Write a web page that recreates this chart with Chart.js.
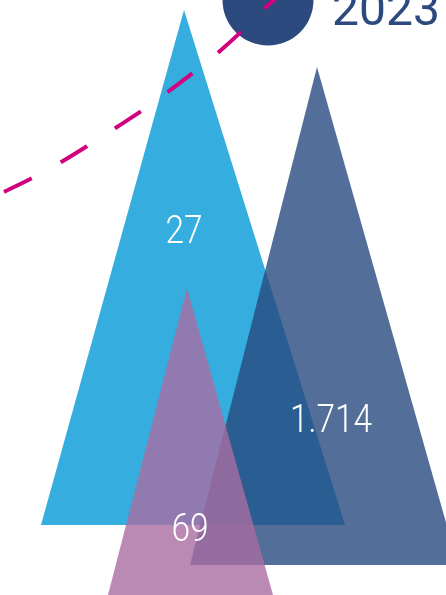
<!DOCTYPE html>
<html>
<head>
<meta charset="utf-8">
<script src="https://cdn.jsdelivr.net/npm/chart.js@4/dist/chart.umd.min.js"></script>
<style>
  html, body { margin: 0; padding: 0; background: #ffffff; }
  #wrap { width: 446px; height: 595px; }
</style>
</head>
<body>
<div id="wrap"><canvas id="c" width="446" height="595"></canvas></div>
<script>
// ---- data ----
const valueLabels = ['27', '1.714', '69'];
const yearLabel = '2023';
// triangle shapes (in chart units)
const apexX = [184, 317, 187];
const apexY = [10, 67, 288];
const baseY = [525, 565, 595];
const baseLeftX = [41, 190, 108];
const baseRightX = [345, 458, 273];
// label anchor (chart units)
const labelX = [184, 331, 190];
const labelY = [243, 432, 541];
// dashed trend curve
const trendX = [4, 34, 63, 89, 117, 143, 169, 194, 220, 243, 267, 280];
const trendY = [192, 177, 161, 145, 127, 110, 91, 72, 51, 30, 6, -5];
// year marker
const markerX = [268];
const markerY = [0];

const fills = ['rgb(53,174,223)', 'rgba(40,74,126,0.8)', 'rgba(169,109,162,0.8)'];
const navy = '#2c4a7e';
const magenta = '#d1007f';

function triangle(i) {
  return [
    { x: baseLeftX[i], y: baseY[i] },
    { x: apexX[i], y: apexY[i] },
    { x: baseRightX[i], y: baseY[i] },
    { x: baseLeftX[i], y: baseY[i] }
  ];
}

const datasets = [];
[0, 1, 2].forEach(i => {
  datasets.push({
    type: 'line',
    data: triangle(i),
    showLine: true,
    fill: 'shape',
    backgroundColor: fills[i],
    borderColor: 'rgba(0,0,0,0)',
    borderWidth: 0,
    pointRadius: 0,
    tension: 0,
    order: 10 - i
  });
});
datasets.push({
  type: 'scatter',
  data: markerX.map((x, i) => ({ x: x, y: markerY[i] })),
  pointRadius: 45.5,
  pointHoverRadius: 45.5,
  pointBackgroundColor: navy,
  pointBorderWidth: 0,
  pointBorderColor: navy,
  order: 3
});
datasets.push({
  type: 'line',
  data: trendX.map((x, i) => ({ x: x, y: trendY[i] })),
  borderColor: magenta,
  borderWidth: 4,
  borderDash: [31, 33],
  borderCapStyle: 'butt',
  pointRadius: 0,
  fill: false,
  cubicInterpolationMode: 'monotone',
  order: 2
});

const textPlugin = {
  id: 'texts',
  afterDatasetsDraw(chart) {
    const ctx = chart.ctx;
    const xs = chart.scales.x, ys = chart.scales.y;
    ctx.save();
    ctx.fillStyle = '#ffffff';
    ctx.textAlign = 'center';
    ctx.textBaseline = 'alphabetic';
    ctx.font = '300 38px Roboto';
    valueLabels.forEach((t, i) => {
      const px = xs.getPixelForValue(labelX[i]);
      const py = ys.getPixelForValue(labelY[i]);
      ctx.save();
      ctx.translate(px, py);
      ctx.scale(0.88, 1);
      ctx.fillText(t, 0, 0);
      ctx.restore();
    });
    ctx.fillStyle = navy;
    ctx.textAlign = 'left';
    ctx.font = '400 48px Roboto';
    ctx.fillText(yearLabel, xs.getPixelForValue(332), ys.getPixelForValue(25));
    ctx.restore();
  }
};

new Chart(document.getElementById('c'), {
  data: { datasets: datasets },
  options: {
    responsive: false,
    devicePixelRatio: 1,
    animation: false,
    layout: { padding: 0, autoPadding: false },
    plugins: { legend: { display: false }, tooltip: { enabled: false } },
    events: [],
    scales: {
      x: { type: 'linear', min: 0, max: 446, display: false },
      y: { type: 'linear', min: 0, max: 595, reverse: true, display: false }
    }
  },
  plugins: [textPlugin]
});
</script>
</body>
</html>
